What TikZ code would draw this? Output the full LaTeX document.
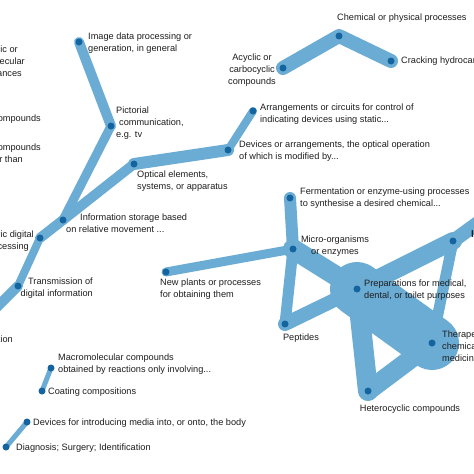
\documentclass[tikz,border=0pt]{standalone}
\usepackage{fontspec}
\setmainfont{Liberation Sans}
\usetikzlibrary{backgrounds}
\pgfdeclarelayer{paper}
\pgfsetlayers{paper,background,main}
\definecolor{band}{RGB}{107,172,212}
\definecolor{dotc}{RGB}{20,100,160}
\definecolor{txt}{RGB}{30,30,30}
\begin{document}
\begin{tikzpicture}[x=1pt,y=-1pt,
  link/.style={draw=band,line cap=round,line join=round},
  dot/.style={circle,fill=dotc,inner sep=0pt,minimum size=7pt},
  lbl/.style={font=\fontsize{9.2}{12}\selectfont,text=txt,inner sep=0pt,align=left},
]
\useasboundingbox (0,0) rectangle (474,474);
\begin{pgfonlayer}{paper}
\fill[white] (0,0) rectangle (474,474);
\end{pgfonlayer}
% ---------- dots ----------
\node[dot] (img) at (79,42) {};
\node[dot] (pic) at (111,126) {};
\node[dot] (opt) at (134,164) {};
\node[dot] (dev) at (228,150) {};
\node[dot] (arr) at (253,111) {};
\node[dot] (info) at (63,220) {};
\node[dot] (edp) at (40,238) {};
\node[dot] (trans) at (18,286) {};
\coordinate (transoff) at (-14,318);
\node[dot] (chem) at (339,36) {};
\node[dot] (acy) at (283,68) {};
\node[dot] (crack) at (391,61) {};
\node[dot] (ferm) at (290,198) {};
\node[dot] (micro) at (293,249) {};
\node[dot] (plants) at (166,272) {};
\node[dot] (pept) at (285,324) {};
\node[dot] (prep) at (357,289) {};
\node[dot] (ther) at (432,343) {};
\node[dot] (het) at (368,391) {};
\node[dot] (inorg) at (453,241) {};
\coordinate (inorgoff) at (486,217);
\node[dot] (macro) at (51,368) {};
\node[dot] (coat) at (42,391) {};
\node[dot] (media) at (27,422) {};
\node[dot] (diag) at (6,447) {};
% ---------- links ----------
\begin{scope}[on background layer]
\draw[link,line width=10] (img.center) -- (pic.center);
\draw[link,line width=9] (pic.center) -- (info.center);
\draw[link,line width=10] (info.center) -- (opt.center);
\draw[link,line width=12] (opt.center) -- (dev.center);
\draw[link,line width=8] (dev.center) -- (arr.center);
\draw[link,line width=10] (info.center) -- (edp.center);
\draw[link,line width=8] (edp.center) -- (trans.center);
\draw[link,line width=10] (trans.center) -- (transoff);
\draw[link,line width=14] (acy.center) -- (chem.center) -- (crack.center);
\draw[link,line width=12] (ferm.center) -- (micro.center);
\draw[link,line width=9] (micro.center) -- (plants.center);
\draw[link,line width=11] (micro.center) -- (pept.center);
\draw[link,line width=20] (micro.center) -- (prep.center);
\draw[link,line width=14] (pept.center) -- (prep.center);
\draw[link,line width=18] (prep.center) -- (inorg.center);
\draw[link,line width=11] (inorg.center) -- (ther.center);
\draw[link,line width=14] (inorg.center) -- (inorgoff);
\draw[link,line width=54] (prep.center) -- (ther.center);
\draw[link,line width=20] (prep.center) -- (het.center);
\draw[link,line width=19] (het.center) -- (ther.center);
\draw[link,line width=5] (macro.center) -- (coat.center);
\draw[link,line width=5] (media.center) -- (diag.center);
\end{scope}
% ---------- labels ----------
\node[lbl,anchor=west] (img-l) at (88,43) {Image data processing or\\generation, in general};
\node[lbl,anchor=west] (pic-l) at (116,123) {Pictorial\\\hspace*{3pt}communication,\\e.g. tv};
\node[lbl,anchor=west] (opt-l) at (137,181) {Optical elements,\\systems, or apparatus};
\node[lbl,anchor=west] (dev-l) at (239,151) {Devices or arrangements, the optical operation\\of which is modified by...};
\node[lbl,anchor=west] (arr-l) at (260,114) {Arrangements or circuits for control of\\indicating devices using static...};
\node[lbl,anchor=west] (chem-l) at (337,18) {Chemical or physical processes};
\node[lbl,align=center] (acy-l) at (252,70) {Acyclic or\\carbocyclic\\compounds};
\node[lbl,anchor=west] (crack-l) at (401,61) {Cracking hydrocarbon oils};
\node[lbl,anchor=west] (info-l) at (66,223) {\hspace*{14pt}Information storage based\\on relative movement ...};
\node[lbl,anchor=east,align=right] (edp-l) at (34,241) {Electric digital\\data processing\hspace*{5pt}};
\node[lbl,anchor=east,align=right] (trans-l) at (93,288) {Transmission of\\digital information};
\node[lbl,anchor=east] (mod-l) at (13,339) {Modulation};
\node[lbl,anchor=east,align=right] (sub-l) at (25,61) {Acyclic or\hspace*{7pt}\\macromolecular\\substances\hspace*{3pt}};
\node[lbl,anchor=east] (org-l) at (41,119) {Organic compounds};
\node[lbl,anchor=east,align=right] (oth-l) at (41,153) {Macromolecular compounds\\other than\hspace*{18pt}};
\node[lbl,anchor=west] (ferm-l) at (300,198) {Fermentation or enzyme-using processes\\to synthesise a desired chemical...};
\node[lbl,align=center] (micro-l) at (335,246) {Micro-organisms\\or enzymes};
\node[lbl,anchor=west] (plants-l) at (160,289) {New plants or processes\\for obtaining them};
\node[lbl] (pept-l) at (301,338) {Peptides};
\node[lbl,anchor=west] (prep-l) at (364,290) {Preparations for medical,\\dental, or toilet purposes};
\node[lbl,anchor=west] (ther-l) at (442,346) {Therapeutic\\chemical\\medicinal};
\node[lbl] (het-l) at (410,409) {Heterocyclic compounds};
\node[lbl,anchor=west,font=\fontsize{10}{12}\selectfont\bfseries] (inorg-l) at (471,235) {Inorganic};
\node[lbl,anchor=west] (macro-l) at (58,364) {Macromolecular compounds\\obtained by reactions only involving...};
\node[lbl,anchor=west] (coat-l) at (48,392) {Coating compositions};
\node[lbl,anchor=west] (media-l) at (33,423) {Devices for introducing media into, or onto, the body};
\node[lbl,anchor=west] (diag-l) at (16,448) {Diagnosis; Surgery; Identification};
\end{tikzpicture}
\end{document}
